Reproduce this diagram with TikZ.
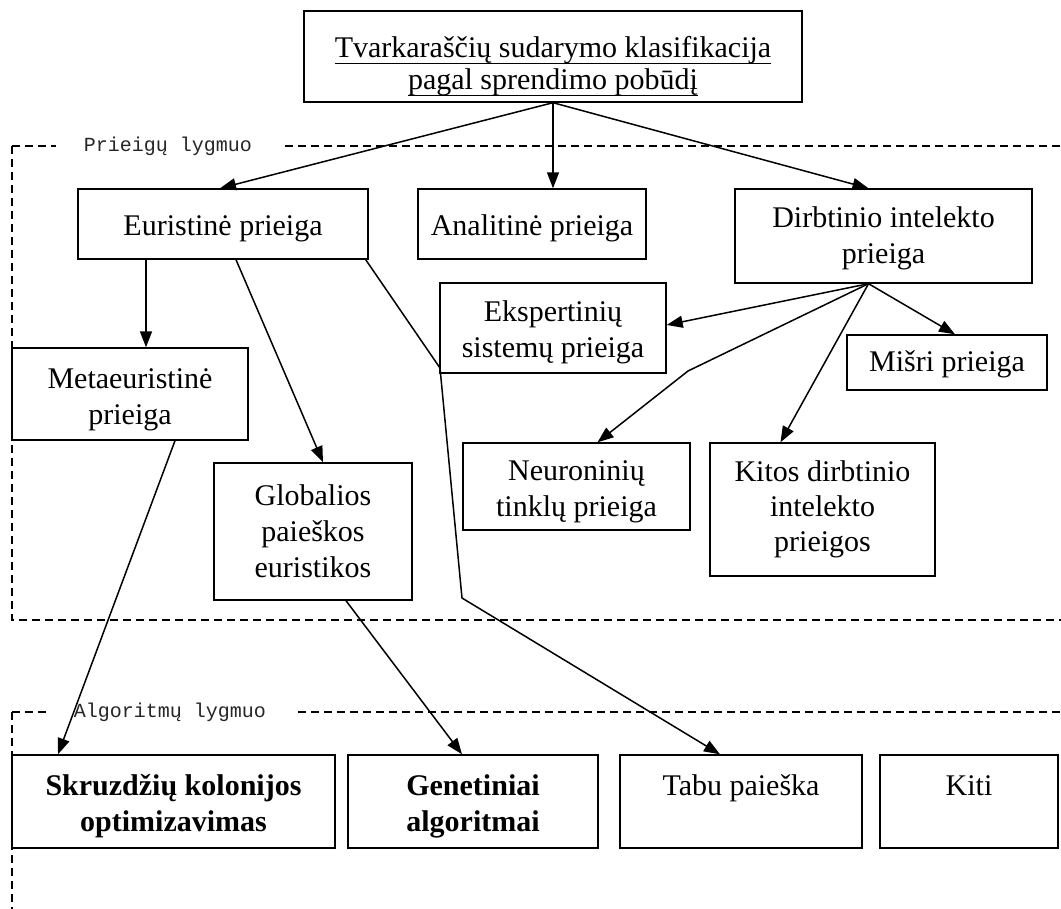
\documentclass[tikz,border=0pt]{standalone}
\usepackage{fontspec}
\setmainfont{Liberation Serif}
\newfontfamily\monofont{Liberation Mono}
\usetikzlibrary{arrows.meta}

% underline set at a fixed depth under the baseline
\newcommand\titleul[1]{\setbox0\hbox{#1}\rlap{\rule[-6pt]{\wd0}{1.1pt}}\box0}
% centred lines, lowered a little inside their box without changing its size
\newcommand\bx[2][4pt]{\raisebox{-#1}[\height][\depth]{\begin{tabular}{@{}c@{}}#2\end{tabular}}}

\begin{document}
\begin{tikzpicture}[x=1pt,y=1pt,
  box/.style={draw, line width=1.4pt, inner sep=0pt,
              font=\fontsize{30}{36}\selectfont},
  link/.style={line width=1.5pt, -{Triangle[length=16pt,width=12pt]}},
  frame/.style={line width=1.2pt, dash pattern=on 8pt off 5pt},
  tag/.style={font=\monofont\fontsize{20}{22}\selectfont, text=black!85, fill=white,
              inner xsep=28pt, inner ysep=2pt}]
\useasboundingbox (0,0) rectangle (1061,-909);

% level frames
\draw[frame] (12,-146) -- (1061,-146);
\draw[frame] (12,-146) -- (12,-620) -- (1061,-620);
\node[tag] (lvl1) at (168,-146) {Prieigų lygmuo};
\draw[frame] (12,-712) -- (1061,-712);
\draw[frame] (12,-712) -- (12,-909);
\node[tag] (lvl2) at (170,-712) {Algoritmų lygmuo};

% boxes
\node[box, font=\fontsize{30}{32}\selectfont, minimum width=498, minimum height=91] (title) at (553,-56.5)
  {\bx[11pt]{\titleul{Tvarkaraščių sudarymo klasifikacija}\\\titleul{pagal sprendimo pobūdį}}};
\node[box, minimum width=290, minimum height=70] (eur) at (223,-224) {\bx{Euristinė prieiga}};
\node[box, minimum width=228, minimum height=70] (ana) at (532,-224) {\bx{Analitinė prieiga}};
\node[box, minimum width=297, minimum height=94] (dir) at (883.5,-236) {\bx[2pt]{Dirbtinio intelekto\\prieiga}};
\node[box, minimum width=226, minimum height=90] (eks) at (553,-328) {\bx{Ekspertinių\\sistemų prieiga}};
\node[box, minimum width=236, minimum height=92] (meta) at (130,-394) {\bx[5pt]{Metaeuristinė\\prieiga}};
\node[box, minimum width=200, minimum height=55] (mis) at (947,-362.5) {\bx[2pt]{Mišri prieiga}};
\node[box, minimum width=198, minimum height=137] (glob) at (313,-531.5) {\bx[3pt]{Globalios\\paieškos\\euristikos}};
\node[box, minimum width=227, minimum height=87] (neu) at (576.5,-486.5) {\bx[5pt]{Neuroninių\\tinklų prieiga}};
\node[box, font=\fontsize{30}{35}\selectfont, minimum width=225, minimum height=133] (kit) at (822.5,-509.5)
  {\bx[0pt]{Kitos dirbtinio\\intelekto\\prieigos}};
\node[box, minimum width=323, minimum height=93] (skr) at (173.5,-801.5)
  {\bx[5pt]{\textbf{Skruzdžių kolonijos}\\\textbf{optimizavimas}}};
\node[box, minimum width=250, minimum height=93] (gen) at (473,-801.5)
  {\bx[5pt]{\textbf{Genetiniai}\\\textbf{algoritmai}}};
\node[box, minimum width=242, minimum height=93] (tabu) at (741,-801.5) {\bx[5pt]{Tabu paieška\\\mbox{}}};
\node[box, minimum width=178, minimum height=93] (kiti) at (969,-801.5) {\bx[5pt]{Kiti\\\mbox{}}};

% bends of the routed connectors
\coordinate (b1) at (440,-368);
\coordinate (b2) at (462,-598);
\coordinate (b3) at (688,-371);

% connectors
\draw[link] (title.south) -- ([xshift=-3]eur.north);
\draw[link] (title.south) -- ([xshift=21]ana.north);
\draw[link] (title.south) -- ([xshift=-15]dir.north);
\draw[link] ([xshift=-77]eur.south) -- ([xshift=16]meta.north);
\draw[link] ([xshift=13]eur.south) -- ([xshift=10]glob.north);
\draw[link] ([xshift=-3]eur.south east) -- (b1) -- (b2) -- ([xshift=-21]tabu.north);
\draw[link] ([xshift=45]meta.south) -- ([xshift=-115.5]skr.north);
\draw[link] ([xshift=33]glob.south) -- ([xshift=-11]gen.north);
\draw[link] ([xshift=-15]dir.south) -- ([yshift=3]eks.east);
\draw[link] ([xshift=-15]dir.south) -- (b3) -- ([xshift=21]neu.north);
\draw[link] ([xshift=-15]dir.south) -- ([xshift=-42]kit.north);
\draw[link] ([xshift=-15]dir.south) -- ([xshift=8]mis.north);
\end{tikzpicture}
\end{document}
